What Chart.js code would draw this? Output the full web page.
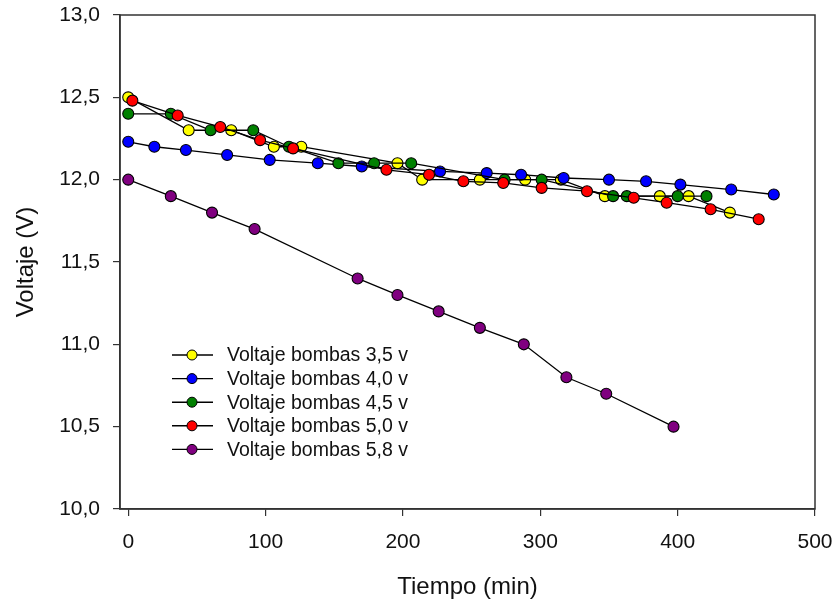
<!DOCTYPE html>
<html>
<head>
<meta charset="utf-8">
<script src="https://cdn.jsdelivr.net/npm/chart.js@4/dist/chart.umd.min.js"></script>
<style>
    html, body { margin: 0; padding: 0; background: #fff; }
    #wrap { width: 837px; height: 607px; }
</style>
</head>
<body>
<div id="wrap"><canvas id="voltajeChart" width="837" height="607"></canvas></div>
<script>
    'use strict';

    // tiempo (min) y voltaje (V) de cada serie
    var tiempo35 = [0, 44, 75, 106, 126, 196, 214, 256, 289, 315, 347, 387, 408, 438];
    var voltaje35 = [12.5, 12.3, 12.3, 12.2, 12.2, 12.1, 12.0, 12.0, 12.0, 12.0, 11.9, 11.9, 11.9, 11.8];

    var tiempo40 = [0, 19, 42, 72, 103, 138, 170, 227, 261, 286, 317, 350, 377, 402, 439, 470];
    var voltaje40 = [12.23, 12.2, 12.18, 12.15, 12.12, 12.1, 12.08, 12.05, 12.04, 12.03, 12.01, 12.0, 11.99, 11.97, 11.94, 11.91];

    var tiempo45 = [0, 31, 60, 91, 117, 153, 179, 206, 274, 301, 353, 363, 400, 421];
    var voltaje45 = [12.4, 12.4, 12.3, 12.3, 12.2, 12.1, 12.1, 12.1, 12.0, 12.0, 11.9, 11.9, 11.9, 11.9];

    var tiempo50 = [3, 36, 67, 96, 120, 188, 219, 244, 273, 301, 334, 368, 392, 424, 459];
    var voltaje50 = [12.48, 12.39, 12.32, 12.24, 12.19, 12.06, 12.03, 11.99, 11.98, 11.95, 11.93, 11.89, 11.86, 11.82, 11.76];

    var tiempo58 = [0, 31, 61, 92, 167, 196, 226, 256, 288, 319, 348, 397];
    var voltaje58 = [12.0, 11.9, 11.8, 11.7, 11.4, 11.3, 11.2, 11.1, 11.0, 10.8, 10.7, 10.5];

    var etiquetas = ['Voltaje bombas 3,5 v', 'Voltaje bombas 4,0 v', 'Voltaje bombas 4,5 v', 'Voltaje bombas 5,0 v', 'Voltaje bombas 5,8 v'];
    var xTicks = [0, 100, 200, 300, 400, 500];

    var FONT = '"Liberation Sans", Arial, sans-serif';

    function toPoints(xs, ys) {
        return xs.map(function (x, i) {
            return {x: x, y: ys[i]};
        });
    }

    function serie(label, xs, ys, color, order) {
        return {
            label: label,
            data: toPoints(xs, ys),
            borderColor: '#000',
            borderWidth: 1.3,
            backgroundColor: color,
            pointBackgroundColor: color,
            pointBorderColor: '#000',
            pointBorderWidth: 1.1,
            pointRadius: 5.5,
            pointHoverRadius: 5.5,
            fill: false,
            tension: 0,
            order: order
        };
    }

    // marco alrededor del area del grafico y leyenda interior
    var framePlugin = {
        id: 'frameAndLegend',
        afterDraw: function (chart) {
            var ctx = chart.ctx;
            var area = chart.chartArea;
            ctx.save();
            ctx.strokeStyle = '#333';
            ctx.lineWidth = 1.5;
            ctx.strokeRect(area.left, area.top, area.right - area.left, area.bottom - area.top);

            var lx = area.left + 52;
            var ly = area.top + 340;
            ctx.font = '19.5px ' + FONT;
            ctx.textBaseline = 'middle';
            ctx.textAlign = 'left';
            chart.data.datasets.forEach(function (ds, i) {
                var y = ly + i * 23.6;
                ctx.strokeStyle = '#000';
                ctx.lineWidth = 1.4;
                ctx.beginPath();
                ctx.moveTo(lx, y);
                ctx.lineTo(lx + 41, y);
                ctx.stroke();
                ctx.beginPath();
                ctx.arc(lx + 20, y, 5, 0, Math.PI * 2);
                ctx.fillStyle = ds.pointBackgroundColor;
                ctx.fill();
                ctx.lineWidth = 1;
                ctx.stroke();
                ctx.fillStyle = '#111';
                ctx.fillText(ds.label, lx + 55, y + 1);
            });
            ctx.restore();
        }
    };

    var ctx = document.getElementById('voltajeChart').getContext('2d');
    var chart = new Chart(ctx, {
        type: 'line',
        data: {
            datasets: [
                serie(etiquetas[0], tiempo35, voltaje35, '#ffff00', 5),
                serie(etiquetas[1], tiempo40, voltaje40, '#0000ff', 4),
                serie(etiquetas[2], tiempo45, voltaje45, '#008000', 3),
                serie(etiquetas[3], tiempo50, voltaje50, '#ff0000', 2),
                serie(etiquetas[4], tiempo58, voltaje58, '#800080', 1)
            ]
        },
        options: {
            responsive: false,
            animation: false,
            layout: {padding: {top: 15, right: 22, left: 0, bottom: 0}},
            plugins: {
                legend: {display: false},
                tooltip: {enabled: false}
            },
            scales: {
                x: {
                    type: 'linear',
                    min: -6,
                    max: 500,
                    afterBuildTicks: function (scale) {
                        scale.ticks = xTicks.map(function (v) {
                            return {value: v};
                        });
                    },
                    afterFit: function (scale) {
                        scale.height = 98;
                        scale.paddingLeft = 0;
                        scale.paddingRight = 0;
                    },
                    grid: {drawOnChartArea: false, tickLength: 7, color: '#333', lineWidth: 1.2},
                    border: {color: '#333', width: 1.5},
                    ticks: {
                        color: '#111',
                        padding: 14,
                        maxRotation: 0,
                        font: {family: FONT, size: 21}
                    },
                    title: {
                        display: true,
                        text: 'Tiempo (min)',
                        color: '#111',
                        padding: {top: 0, bottom: 5},
                        font: {family: FONT, size: 24}
                    }
                },
                y: {
                    type: 'linear',
                    min: 10,
                    max: 13,
                    afterFit: function (scale) {
                        scale.width = 120;
                        scale.paddingTop = 0;
                        scale.paddingBottom = 0;
                    },
                    grid: {drawOnChartArea: false, tickLength: 7, color: '#333', lineWidth: 1.2},
                    border: {color: '#333', width: 1.5},
                    ticks: {
                        stepSize: 0.5,
                        color: '#111',
                        padding: 13,
                        font: {family: FONT, size: 21},
                        callback: function (value) {
                            return value.toFixed(1).replace('.', ',');
                        }
                    },
                    title: {
                        display: true,
                        text: 'Voltaje (V)',
                        color: '#111',
                        padding: {top: 12, bottom: 0},
                        font: {family: FONT, size: 24}
                    }
                }
            }
        },
        plugins: [framePlugin]
    });
</script>
</body>
</html>
